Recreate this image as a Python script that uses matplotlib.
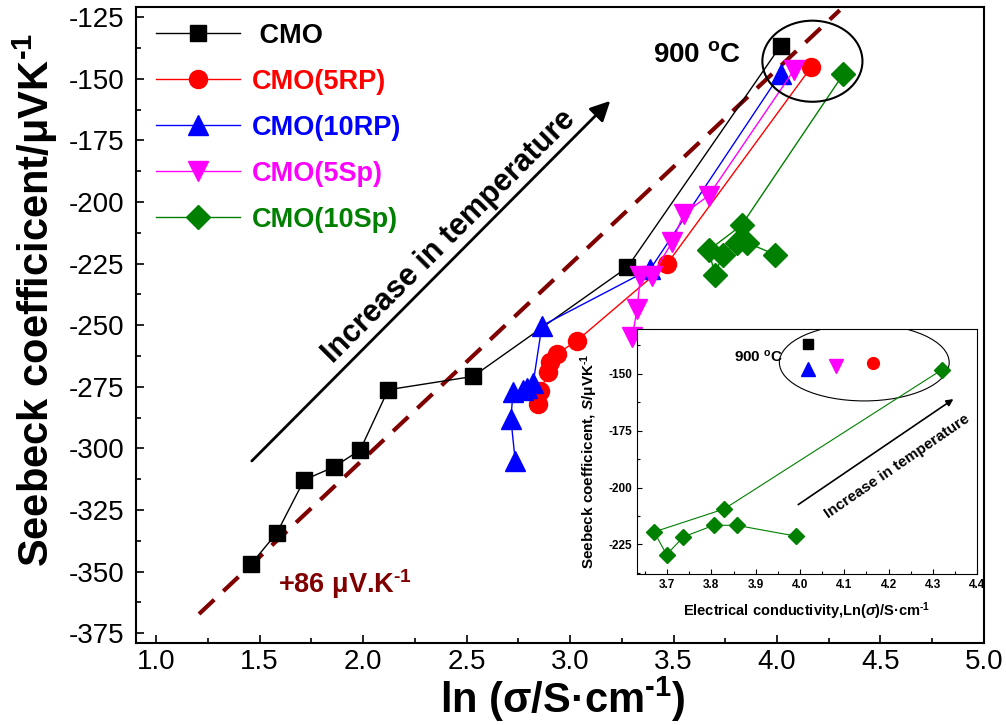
"""
Seebeck coefficient vs ln(conductivity) for CMO samples, with 10Sp inset.
"""

import matplotlib as mpl
import matplotlib.pyplot as plt
from matplotlib.patches import Ellipse
from matplotlib.ticker import MultipleLocator

mpl.rcParams["font.family"] = ["Liberation Sans", "DejaVu Sans"]
mpl.rcParams["axes.unicode_minus"] = False
# all math pieces here sit in bold text
mpl.rcParams["mathtext.fontset"] = "custom"
mpl.rcParams["mathtext.rm"] = "Liberation Sans:bold"
mpl.rcParams["mathtext.bf"] = "Liberation Sans:bold"
mpl.rcParams["mathtext.it"] = "Liberation Sans:italic:bold"
mpl.rcParams["mathtext.default"] = "bf"

# series: ln(sigma), Seebeck (uV/K)
cmo_x = [1.457, 1.583, 1.715, 1.860, 1.986, 2.121, 2.531, 3.277, 4.017]
cmo_y = [-347.1, -334.3, -312.8, -307.5, -300.6, -276.2, -270.8, -226.5, -136.7]

rp5_x = [2.846, 2.856, 2.895, 2.904, 2.937, 3.033, 3.469, 4.165]
rp5_y = [-281.9, -276.6, -269.2, -265.1, -261.6, -256.3, -225.1, -145.3]

rp10_x = [2.735, 2.714, 2.724, 2.772, 2.792, 2.822, 2.864, 3.388, 4.017]
rp10_y = [-305.1, -288.0, -277.3, -276.2, -275.3, -273.3, -250.2, -227.2, -147.9]

sp5_x = [3.300, 3.324, 3.340, 3.396, 3.493, 3.549, 3.670, 4.081]
sp5_y = [-255.0, -243.4, -229.9, -229.9, -216.3, -204.8, -197.4, -146.6]

sp10_x = [3.992, 3.857, 3.805, 3.737, 3.699, 3.671, 3.829, 4.320]
sp10_y = [-221.4, -216.6, -216.6, -221.7, -229.5, -219.5, -209.4, -148.2]

# slope guide line end points
fit_x = [1.207, 4.303]
fit_y = [-367.2, -122.2]

SUP = "$^{\\text{-1}}$"

fig = plt.figure(figsize=(10.06, 7.25), dpi=100)
ax = fig.add_axes([0.1347, 0.113, 0.8434, 0.877])

ax.plot(fit_x, fit_y, color="#800000", lw=3, dashes=(5, 3), zorder=1)

ax.plot(cmo_x, cmo_y, color="black", marker="s", ms=11.5, lw=1, label=" CMO")
ax.plot(rp5_x, rp5_y, color="red", marker="o", ms=13, lw=1, label="CMO(5RP)")
ax.plot(rp10_x, rp10_y, color="blue", marker="^", ms=14, lw=1, label="CMO(10RP)")
ax.plot(sp5_x, sp5_y, color="magenta", marker="v", ms=14, lw=1, label="CMO(5Sp)")
ax.plot(sp10_x, sp10_y, color="green", marker="D", ms=12, lw=1, label="CMO(10Sp)")

ax.set_xlim(0.9, 5.0)
ax.set_ylim(-379, -121)
ax.xaxis.set_major_locator(MultipleLocator(0.5))
ax.xaxis.set_minor_locator(MultipleLocator(0.25))
ax.yaxis.set_major_locator(MultipleLocator(25))
ax.yaxis.set_minor_locator(MultipleLocator(12.5))
ax.xaxis.set_major_formatter(mpl.ticker.FormatStrFormatter("%.1f"))
ax.tick_params(which="both", direction="in", width=1.2)
ax.tick_params(which="major", length=6, labelsize=20)
ax.tick_params(which="minor", length=3.5)
ax.tick_params(axis="y", pad=8)
ax.tick_params(axis="x", pad=4)
for spine in ax.spines.values():
    spine.set_linewidth(1.5)

ax.set_xlabel("ln (σ/S·cm" + SUP + ")", fontsize=30, fontweight="bold")
ax.set_ylabel("Seebeck coefficicent/μVK" + SUP, fontsize=30, fontweight="bold")
ax.xaxis.set_label_coords(0.503, -0.05)
ax.yaxis.set_label_coords(-0.089, 0.54)

ax.legend(loc="upper left", bbox_to_anchor=(0.0242, 0.976), frameon=False,
          prop={"weight": "bold", "size": 19.5}, handlelength=3.1,
          handletextpad=0.45, labelspacing=0.74, borderpad=0,
          borderaxespad=0, labelcolor="linecolor", numpoints=1)

# annotations
ax.annotate("", xy=(3.194, -159.0), xytext=(1.462, -305.1),
            arrowprops=dict(arrowstyle="-|>", color="black", lw=2,
                            mutation_scale=30, shrinkA=0, shrinkB=0))
ax.text(2.413, -213.9, "Increase in temperature", rotation=45,
        rotation_mode="anchor", ha="center", va="center",
        fontsize=22, fontweight="bold")
ax.text(3.402, -140.4, "900 $^{o}$C", ha="left", va="center",
        fontsize=20, fontweight="bold")
ax.text(1.589, -355.0, "+86 μV.K" + SUP, ha="left", va="center",
        fontsize=19.5, fontweight="bold", color="#800000")
ax.add_patch(Ellipse((4.171, -142.9), 0.4836, 32.9, fill=False,
                     lw=1.5, ec="black", zorder=5))

# inset: 10Sp with all 900 C points
axin = fig.add_axes([0.6335, 0.2083, 0.338, 0.3375])
axin.plot(sp10_x, sp10_y, color="green", marker="D", ms=8.5, lw=0.8)
axin.plot(cmo_x[-1], cmo_y[-1], "s", color="black", ms=7)
axin.plot(rp10_x[-1], rp10_y[-1], "^", color="blue", ms=9.5)
axin.plot(sp5_x[-1], sp5_y[-1], "v", color="magenta", ms=9.5)
axin.plot(rp5_x[-1], rp5_y[-1], "o", color="red", ms=8.5)
axin.add_patch(Ellipse((4.145, -145.0), 0.383, 33.8, fill=False,
                       lw=0.8, ec="black"))
axin.annotate("", xy=(4.346, -161.1), xytext=(3.996, -207.5),
              arrowprops=dict(arrowstyle="-|>", color="black", lw=1.2,
                              mutation_scale=10, shrinkA=0, shrinkB=0))
axin.text(4.218, -190.7, "Increase in temperature", rotation=34.5,
          rotation_mode="anchor", ha="center", va="center",
          fontsize=11, fontweight="bold")
axin.text(3.85, -142.5, "900 $^{o}$C", ha="left", va="center",
          fontsize=11, fontweight="bold")

axin.set_xlim(3.633, 4.4)
axin.set_ylim(-238, -130.4)
axin.xaxis.set_major_locator(MultipleLocator(0.1))
axin.xaxis.set_minor_locator(MultipleLocator(0.05))
axin.yaxis.set_major_locator(MultipleLocator(25))
axin.yaxis.set_minor_locator(MultipleLocator(12.5))
axin.tick_params(which="both", direction="in", width=0.8, labelsize=8.5)
axin.tick_params(which="major", length=3.5)
axin.tick_params(which="minor", length=2)
for lab in axin.get_xticklabels() + axin.get_yticklabels():
    lab.set_fontweight("bold")
for spine in axin.spines.values():
    spine.set_linewidth(0.8)
axin.set_xlabel("Electrical conductivity,Ln($\\mathit{σ}$)/S·cm" + SUP,
                fontsize=10.5, fontweight="bold")
axin.set_ylabel("Seebeck coefficicent, $\\mathit{S}$/μVK" + SUP,
                fontsize=11, fontweight="bold")
axin.xaxis.set_label_coords(0.499, -0.106)
axin.yaxis.set_label_coords(-0.11, 0.459)

fig.savefig("out.png", dpi=100)
